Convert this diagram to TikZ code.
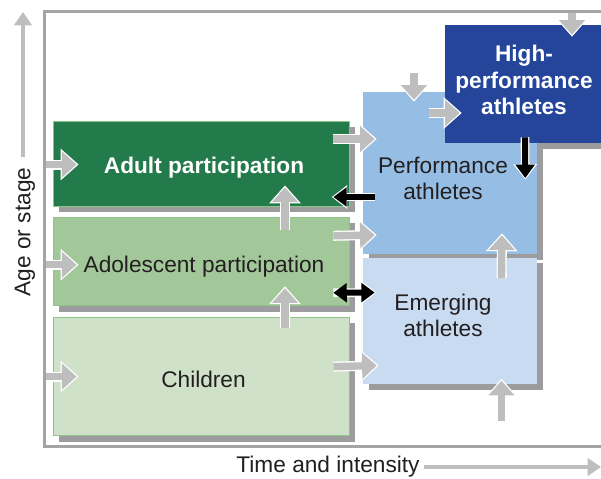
\documentclass[tikz,border=0pt]{standalone}
\usepackage{fontspec}
\setmainfont{Liberation Sans}
\usepackage{tikz}
\usetikzlibrary{positioning,arrows.meta,backgrounds}

\definecolor{adultgreen}{HTML}{237A4B}
\definecolor{adolgreen}{HTML}{A2C899}
\definecolor{childgreen}{HTML}{CFE2C9}
\definecolor{greenedge}{HTML}{8FC489}
\definecolor{perfblue}{HTML}{96BEE5}
\definecolor{emergblue}{HTML}{C8DBF1}
\definecolor{highblue}{HTML}{24459A}
\definecolor{arrowgray}{HTML}{BEBEBE}
\definecolor{shadowgray}{HTML}{9C9C9E}
\definecolor{framegray}{HTML}{A4A4A4}
\definecolor{textdark}{HTML}{231F20}

\tikzset{stage box/.style={rectangle,inner sep=0pt},
  green box/.style={stage box,draw=greenedge,line width=0.6pt},
  stage text/.style={align=center,text=textdark,inner sep=0pt,
    font=\fontsize{17}{19.5}\selectfont},
  bold text/.style={stage text,text=white,font=\fontsize{17}{20}\selectfont\bfseries},
  gray arrow/.style={draw=arrowgray,line width=5.5pt,-{Triangle[width=19pt,length=11pt]},
    preaction={draw=white,line width=7.5pt,shorten >=-1.5pt,-{Triangle[width=23pt,length=13.5pt]}}},
  black arrow/.style={draw=black,line width=4.5pt,-{Triangle[width=14pt,length=10pt]},
    preaction={draw=white,line width=6.5pt,shorten >=-1.2pt,-{Triangle[width=17pt,length=11.5pt]}}},
  axis arrow/.style={draw=arrowgray,line width=3.5pt,-{Triangle[width=13pt,length=10pt]}},
  axis label/.style={text=textdark,font=\fontsize{17}{19.5}\selectfont,inner sep=3pt},
}

\begin{document}
\begin{tikzpicture}[x=0.75pt,y=-0.75pt]
\useasboundingbox (0,0) rectangle (601,479);

% participation side
\node[green box,fill=adultgreen,minimum width=222pt,minimum height=63.75pt] (adult) at (201,163.5) {};
\node[green box,fill=adolgreen,minimum width=222pt,minimum height=66pt] (adol) [below=8.25pt of adult] {};
\node[green box,fill=childgreen,minimum width=222pt,minimum height=88.5pt] (child) [below=8.25pt of adol] {};

% performance side
\node[stage box,fill=perfblue,minimum width=130.5pt,minimum height=121.5pt] (perf) at (450,173) {};
\node[stage box,fill=emergblue,minimum width=130.5pt,minimum height=94.5pt] (emerg) [below=2.25pt of perf] {};
\node[stage box,fill=highblue,minimum width=118.5pt,minimum height=88.5pt] (high) at (524,84) {};

% texts
\node[bold text] (adult text) at ([shift={(3,4)}]adult.center) {Adult participation};
\node[stage text] (adol text) at ([shift={(3,5)}]adol.center) {Adolescent participation};
\node[stage text] (child text) at ([shift={(2.5,3)}]child.center) {Children};
\node[stage text] (perf text) at ([shift={(-7,5)}]perf.center) {Performance\\athletes};
\node[stage text] (emerg text) at ([shift={(-7,-5)}]emerg.center) {Emerging\\athletes};
\node[bold text] (high text) at ([shift={(0,-4)}]high.center) {High-\\performance\\athletes};

% axes
\node[axis label,rotate=90] (ylab) at (25,232) {Age or stage};
\node[axis label] (xlab) at (328,467) {Time and intensity};
\coordinate (ytop) at (23,12);
\coordinate (xend) at (601,467);
\draw[axis arrow] ([shift={(-2,-6)}]ylab.east) -- (ytop);
\draw[axis arrow] (xlab.east) -- (xend);

\begin{scope}[on background layer]
  \draw[framegray,line width=2.25pt] (44,11.5) rectangle (640,446);
  \foreach \b in {adult,adol,child,perf,emerg,high}
    \fill[shadowgray] ([shift={(6,6)}]\b.south west) rectangle ([shift={(6,6)}]\b.north east);
\end{scope}

% arrows into the stages
\draw[gray arrow] ([shift={(-7,1)}]adult.west) -- ++(31,0);
\draw[gray arrow] ([shift={(-7,3)}]adol.west) -- ++(31,0);
\draw[gray arrow] ([shift={(-7,0)}]child.west) -- ++(31,0);
\draw[gray arrow] ([shift={(84,13)}]adol.north) -- ([shift={(84,-19)}]adult.south);
\draw[gray arrow] ([shift={(84,11)}]child.north) -- ([shift={(84,-18)}]adol.south);
\draw[gray arrow] ([shift={(-16,-24.5)}]adult.east) -- ([shift={(12,-34)}]perf.west);
\draw[gray arrow] ([shift={(-16,-26)}]adol.east) -- ([shift={(12,62)}]perf.west);
\draw[gray arrow] ([shift={(-16,-10)}]child.east) -- ([shift={(14,45)}]emerg.west);
\draw[gray arrow] ([shift={(-36,-19)}]perf.north) -- ([shift={(-36,8)}]perf.north);
\draw[gray arrow] ([shift={(-16,29)}]high.west) -- ([shift={(15,29)}]high.west);
\draw[gray arrow] ([shift={(48,-12)}]high.north) -- ([shift={(48,10)}]high.north);
\draw[gray arrow] ([shift={(51.5,21)}]emerg.north) -- ([shift={(52,-19)}]perf.south);
\draw[gray arrow] ([shift={(51.5,37)}]emerg.south) -- ([shift={(51.5,-3)}]emerg.south);

% transfers
\draw[black arrow] ([shift={(1,-6)}]high.south) -- ([shift={(-12,5)}]perf.east);
\draw[black arrow] ([shift={(12,24)}]perf.west) -- ([shift={(-16,33.5)}]adult.east);
\draw[black arrow,{Triangle[width=14pt,length=10pt]}-{Triangle[width=14pt,length=10pt]}]
  ([shift={(-16,31)}]adol.east) -- ([shift={(12,-28)}]emerg.west);
\end{tikzpicture}
\end{document}
